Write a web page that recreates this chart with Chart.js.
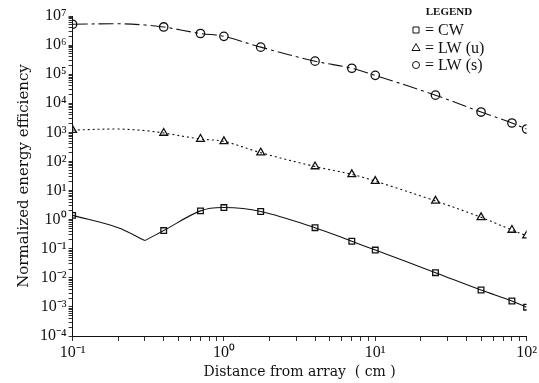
<!DOCTYPE html>
<html>
<head>
<meta charset="utf-8">
<script src="https://cdn.jsdelivr.net/npm/chart.js@4"></script>
<style>
  html, body { margin: 0; padding: 0; background: #fff; }
  #wrap { width: 539px; height: 383px; }
</style>
</head>
<body>
<div id="wrap"><canvas id="grafico" width="539" height="383"></canvas></div>
<script>
// distancias con marcador (cm)
const distances = [0.1, 0.4, 0.7, 1, 1.75, 4, 7, 10, 25, 50, 80, 100];
const cw  = [1.4, 0.42, 2.0, 2.6, 1.9, 0.53, 0.18, 0.09, 0.015, 0.0038, 0.0016, 0.00098];
const lwU = [1200, 950, 590, 490, 200, 67, 36, 21, 4.4, 1.2, 0.44, 0.28];
const lwS = [5.2e6, 4.2e6, 2.5e6, 2.0e6, 8.5e5, 2.8e5, 1.6e5, 9.1e4, 1.9e4, 5.0e3, 2.1e3, 1.3e3];

// puntos de la curva sin marcador
const curveX    = [0.2, 0.3];
const cwCurve   = [0.53, 0.19];
const lwUCurve  = [1300, 1150];
const lwSCurve  = [5.4e6, 4.9e6];

const xTickLabels = { '0.1': '10⁻¹', '1': '10⁰', '10': '10¹', '100': '10²' };
const yTickLabels = {
  '0.0001': '10⁻⁴', '0.001': '10⁻³', '0.01': '10⁻²', '0.1': '10⁻¹', '1': '10⁰',
  '10': '10¹', '100': '10²', '1000': '10³', '10000': '10⁴', '100000': '10⁵',
  '1000000': '10⁶', '10000000': '10⁷'
};
const legendItems = [
  { style: 'rect', text: '= CW' },
  { style: 'triangle', text: '= LW (u)' },
  { style: 'circle', text: '= LW (s)' }
];

function pts(xs, ys) { return xs.map((x, i) => ({ x: x, y: ys[i] })); }
function curve(marks, extra) {
  return pts(distances, marks).concat(pts(curveX, extra)).sort((a, b) => a.x - b.x);
}

// ticks 1..9 x 10^n
function logTicks(scale) {
  const t = [];
  const lo = Math.round(Math.log10(scale.min)), hi = Math.round(Math.log10(scale.max));
  for (let e = lo; e <= hi; e++) {
    for (let m = 1; m <= 9; m++) {
      const v = m * Math.pow(10, e);
      if (v <= scale.max * 1.0001) t.push({ value: v });
    }
  }
  scale.ticks = t;
}

const cwAll = curve(cw, cwCurve);
const cwLeft = cwAll.filter(p => p.x <= 0.3);
const cwRight = cwAll.filter(p => p.x >= 0.3);

const leyenda = {
  id: 'leyenda',
  afterDraw(chart) {
    const c = chart.ctx;
    c.save();
    c.fillStyle = '#111';
    c.strokeStyle = '#111';
    c.lineWidth = 1;
    c.font = 'bold 11px "Liberation Serif"';
    c.textAlign = 'center';
    c.textBaseline = 'middle';
    c.fillText('LEGEND', 449, 12);
    c.textAlign = 'left';
    c.font = '16px "Liberation Serif"';
    legendItems.forEach((it, i) => {
      const y = 30 + i * 17.5;
      const x = 416;
      c.beginPath();
      if (it.style === 'rect') c.rect(x - 3, y - 3, 6, 6);
      else if (it.style === 'triangle') { c.moveTo(x, y - 4); c.lineTo(x + 4, y + 3); c.lineTo(x - 4, y + 3); c.closePath(); }
      else c.arc(x, y, 3.5, 0, Math.PI * 2);
      c.stroke();
      c.fillText(it.text, 425, y + 1);
    });
    c.restore();
  }
};

const marker = (data, style, r) => ({
  type: 'scatter', data: data, showLine: false,
  pointStyle: style, pointRadius: r, pointBorderColor: '#111',
  pointBackgroundColor: 'rgba(255,255,255,0)', pointBorderWidth: 1.3
});
const linea = (data, dash) => ({
  type: 'line', data: data, borderColor: '#111', borderWidth: 1.1,
  borderDash: dash, pointRadius: 0, tension: 0.35, fill: false
});

new Chart(document.getElementById('grafico'), {
  data: {
    datasets: [
      linea(cwLeft, []),
      linea(cwRight, []),
      linea(curve(lwU, lwUCurve), [2, 3]),
      linea(curve(lwS, lwSCurve), [15, 4, 3, 4]),
      marker(pts(distances, cw), 'rect', 4),
      marker(pts(distances, lwU), 'triangle', 4.5),
      marker(pts(distances, lwS), 'circle', 4.2)
    ]
  },
  options: {
    responsive: false,
    animation: false,
    layout: { padding: { top: 16, right: 2, left: 15, bottom: 2 } },
    plugins: { legend: { display: false }, tooltip: { enabled: false } },
    scales: {
      x: {
        type: 'logarithmic', min: 0.1, max: 100,
        afterBuildTicks: logTicks,
        border: { color: '#111', width: 1 },
        grid: { drawOnChartArea: false, tickLength: 5, color: '#333' },
        ticks: {
          autoSkip: false, maxRotation: 0, padding: 2, color: '#111',
          font: { family: '"Liberation Serif"', size: 16 },
          callback: v => xTickLabels[String(v)] || ''
        },
        title: {
          display: true, text: 'Distance from array  ( cm )', color: '#111',
          font: { family: '"DejaVu Serif"', size: 14 }, padding: { top: 0, bottom: 0 }
        }
      },
      y: {
        type: 'logarithmic', min: 1e-4, max: 1e7,
        afterBuildTicks: logTicks,
        border: { color: '#111', width: 1 },
        grid: { drawOnChartArea: false, tickLength: 4, color: '#333' },
        ticks: {
          autoSkip: false, padding: 2, color: '#111',
          font: { family: '"Liberation Serif"', size: 16 },
          callback: v => yTickLabels[String(v)] || ''
        },
        title: {
          display: true, text: 'Normalized energy efficiency', color: '#111',
          font: { family: '"DejaVu Serif"', size: 15 }, padding: { top: 0, bottom: 5 }
        }
      }
    }
  },
  plugins: [leyenda]
});
</script>
</body>
</html>
